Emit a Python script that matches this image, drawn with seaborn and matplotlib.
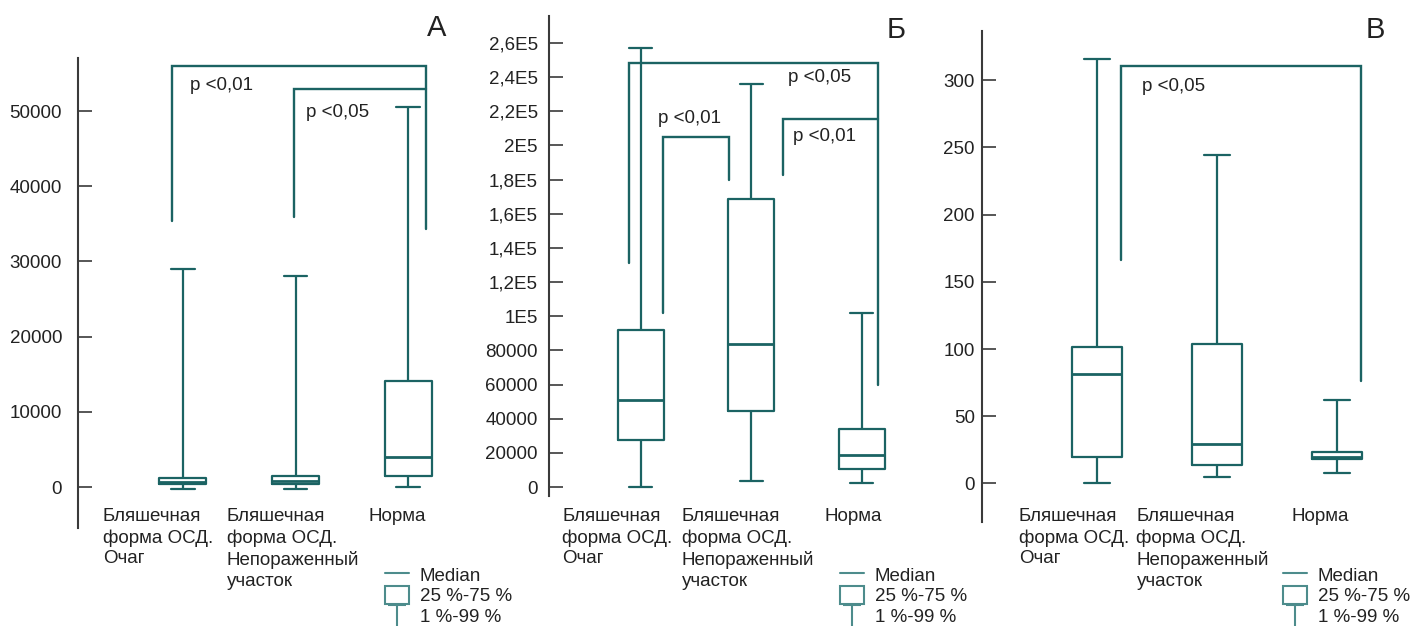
import numpy as np
import pandas as pd
import seaborn as sns
import matplotlib.pyplot as plt
from matplotlib.lines import Line2D
from matplotlib.patches import Patch
from matplotlib.path import Path
from matplotlib.transforms import blended_transform_factory

groups = ["Бляшечная\nформа ОСД.\nОчаг",
          "Бляшечная\nформа ОСД.\nНепораженный\nучасток",
          "Норма"]

# 1 %, 25 %, median, 75 %, 99 % per group
a_p1 = [-300, -300, 0]
a_q1 = [400, 400, 1450]
a_med = [700, 800, 4000]
a_q3 = [1200, 1450, 14100]
a_p99 = [29000, 28100, 50600]

b_p1 = [0, 3500, 2100]
b_q1 = [27500, 44500, 10600]
b_med = [51000, 83900, 18900]
b_q3 = [91900, 168600, 34200]
b_p99 = [257000, 236000, 102000]

c_p1 = [0, 4.5, 7.8]
c_q1 = [19.8, 13.8, 18.3]
c_med = [81.7, 29.4, 20.0]
c_q3 = [101.5, 103.6, 23.4]
c_p99 = [315.8, 244, 62.4]

a_ticks = [0, 10000, 20000, 30000, 40000, 50000]
b_ticks = [0, 20000, 40000, 60000, 80000, 100000, 120000, 140000,
           160000, 180000, 200000, 220000, 240000, 260000]
b_ticklabels = ["0", "20000", "40000", "60000", "80000", "1E5", "1,2E5", "1,4E5",
                "1,6E5", "1,8E5", "2E5", "2,2E5", "2,4E5", "2,6E5"]
c_ticks = [0, 50, 100, 150, 200, 250, 300]

# significance brackets: x_left, x_right, y_top, y_left_end, y_right_end, text, text_x, text_y
a_brackets = [(-0.10, 2.16, 56000, 35400, 34300, "p <0,01", 0.065, 53400),
              (0.99, 2.16, 52900, 35900, 52900, "p <0,05", 1.09, 49800)]
b_brackets = [(-0.11, 2.15, 248500, 131000, 59500, "p <0,05", 1.33, 240000),
              (0.205, 0.80, 205000, 102000, 180000, "p <0,01", 0.16, 216000),
              (1.29, 2.15, 215700, 182600, 215700, "p <0,01", 1.375, 205500)]
c_brackets = [(0.20, 2.20, 310.4, 166, 76, "p <0,05", 0.38, 295)]

teal = "#1b6363"
light_teal = "#4d8c8c"
axis_col = "#3a3a3a"
txt_col = "#222222"

sns.set_style("white")
plt.rcParams["font.family"] = ["Liberation Sans", "DejaVu Sans"]

W, H = 1411, 630
fig = plt.figure(figsize=(W / 100, H / 100), dpi=100)


def box_frame(p1, q1, med, q3, p99):
    rows = []
    for i, g in enumerate(groups):
        for v in (p1[i], q1[i], med[i], q3[i], p99[i]):
            rows.append({"group": g, "value": v})
    return pd.DataFrame(rows)


def px_rect(left, xlim, bottom_px, top_px, spacing):
    width = (xlim[1] - xlim[0]) * spacing
    return [left / W, 1 - bottom_px / H, width / W, (bottom_px - top_px) / H]


panels = [
    dict(stats=(a_p1, a_q1, a_med, a_q3, a_p99), ticks=a_ticks, ticklabels=None,
         ylim=(-5500, 57000), xlim=(-0.93, 2.5), left=78, bottom=528.4, top=58.4,
         spacing=112.7, pad=11.5, brackets=a_brackets, letter="А", letter_xy=(437, 28),
         label_x=[-0.71, 0.39, 1.65], legend_xy=(385, 565)),
    dict(stats=(b_p1, b_q1, b_med, b_q3, b_p99), ticks=b_ticks, ticklabels=b_ticklabels,
         ylim=(-5500, 276000), xlim=(-0.83, 2.5), left=549, bottom=496.4, top=15.7,
         spacing=110.5, pad=8, brackets=b_brackets, letter="Б", letter_xy=(896, 30),
         label_x=[-0.71, 0.37, 1.66], legend_xy=(840, 565)),
    dict(stats=(c_p1, c_q1, c_med, c_q3, c_p99), ticks=c_ticks, ticklabels=None,
         ylim=(-28.5, 337), xlim=(-0.96, 2.4), left=981.7, bottom=521.7, top=30.5,
         spacing=120, pad=5, brackets=c_brackets, letter="В", letter_xy=(1375, 30),
         label_x=[-0.65, 0.33, 1.62], legend_xy=(1283, 565)),
]

t_path = Path([(-1, 1), (1, 1), (0, 1), (0, -1.3)],
              [Path.MOVETO, Path.LINETO, Path.MOVETO, Path.LINETO])

for p in panels:
    ax = fig.add_axes(px_rect(p["left"], p["xlim"], p["bottom"], p["top"], p["spacing"]))
    df = box_frame(*p["stats"])
    sns.boxplot(data=df, x="group", y="value", order=groups, whis=(0, 100),
                fill=False, color=teal, linewidth=1.6, width=0.42,
                showfliers=False, ax=ax,
                medianprops=dict(linewidth=2.0, color=teal))
    ax.set_xlim(p["xlim"])
    ax.set_ylim(p["ylim"])
    ax.set_yticks(p["ticks"])
    if p["ticklabels"] is not None:
        ax.set_yticklabels(p["ticklabels"])
    ax.set_xticks([])
    ax.set_xlabel("")
    ax.set_ylabel("")
    for s in ["top", "right", "bottom"]:
        ax.spines[s].set_visible(False)
    ax.spines["left"].set_color(axis_col)
    ax.spines["left"].set_linewidth(1.5)
    ax.tick_params(axis="y", direction="in", length=10, width=1.2, color=axis_col,
                   labelsize=13.5, labelcolor=txt_col, pad=p["pad"], left=True)
    ax.patch.set_alpha(0)

    # significance brackets
    for x1, x2, yt, y1, y2, lab, tx, ty in p["brackets"]:
        ax.plot([x1, x1, x2, x2], [y1, yt, yt, y2], color=teal, lw=1.7,
                solid_joinstyle="miter", clip_on=False)
        ax.text(tx, ty, lab, fontsize=13.5, color=txt_col, ha="left", va="center")

    # category labels
    tr = blended_transform_factory(ax.transData, fig.transFigure)
    for g, lx in zip(groups, p["label_x"]):
        ax.text(lx, 1 - 508 / H, g, transform=tr, fontsize=13.5, color=txt_col,
                ha="left", va="top", linespacing=1.3)

    fig.text(p["letter_xy"][0] / W, 1 - p["letter_xy"][1] / H, p["letter"],
             fontsize=21, color=txt_col, ha="center", va="center")

    handles = [Line2D([], [], color=light_teal, lw=1.5),
               Patch(facecolor="none", edgecolor=light_teal, lw=1.5),
               Line2D([], [], ls="none", marker=t_path, markersize=17,
                      markeredgewidth=1.5, color=light_teal)]
    fig.legend(handles, ["Median", "25 %-75 %", "1 %-99 %"],
               loc="upper left",
               bbox_to_anchor=(p["legend_xy"][0] / W, 1 - p["legend_xy"][1] / H),
               bbox_transform=fig.transFigure, frameon=False, fontsize=13.5,
               handlelength=1.3, handleheight=1.15, handletextpad=0.55,
               labelspacing=0.05, borderpad=0, borderaxespad=0,
               labelcolor=txt_col)

fig.savefig("out.png", dpi=100)
